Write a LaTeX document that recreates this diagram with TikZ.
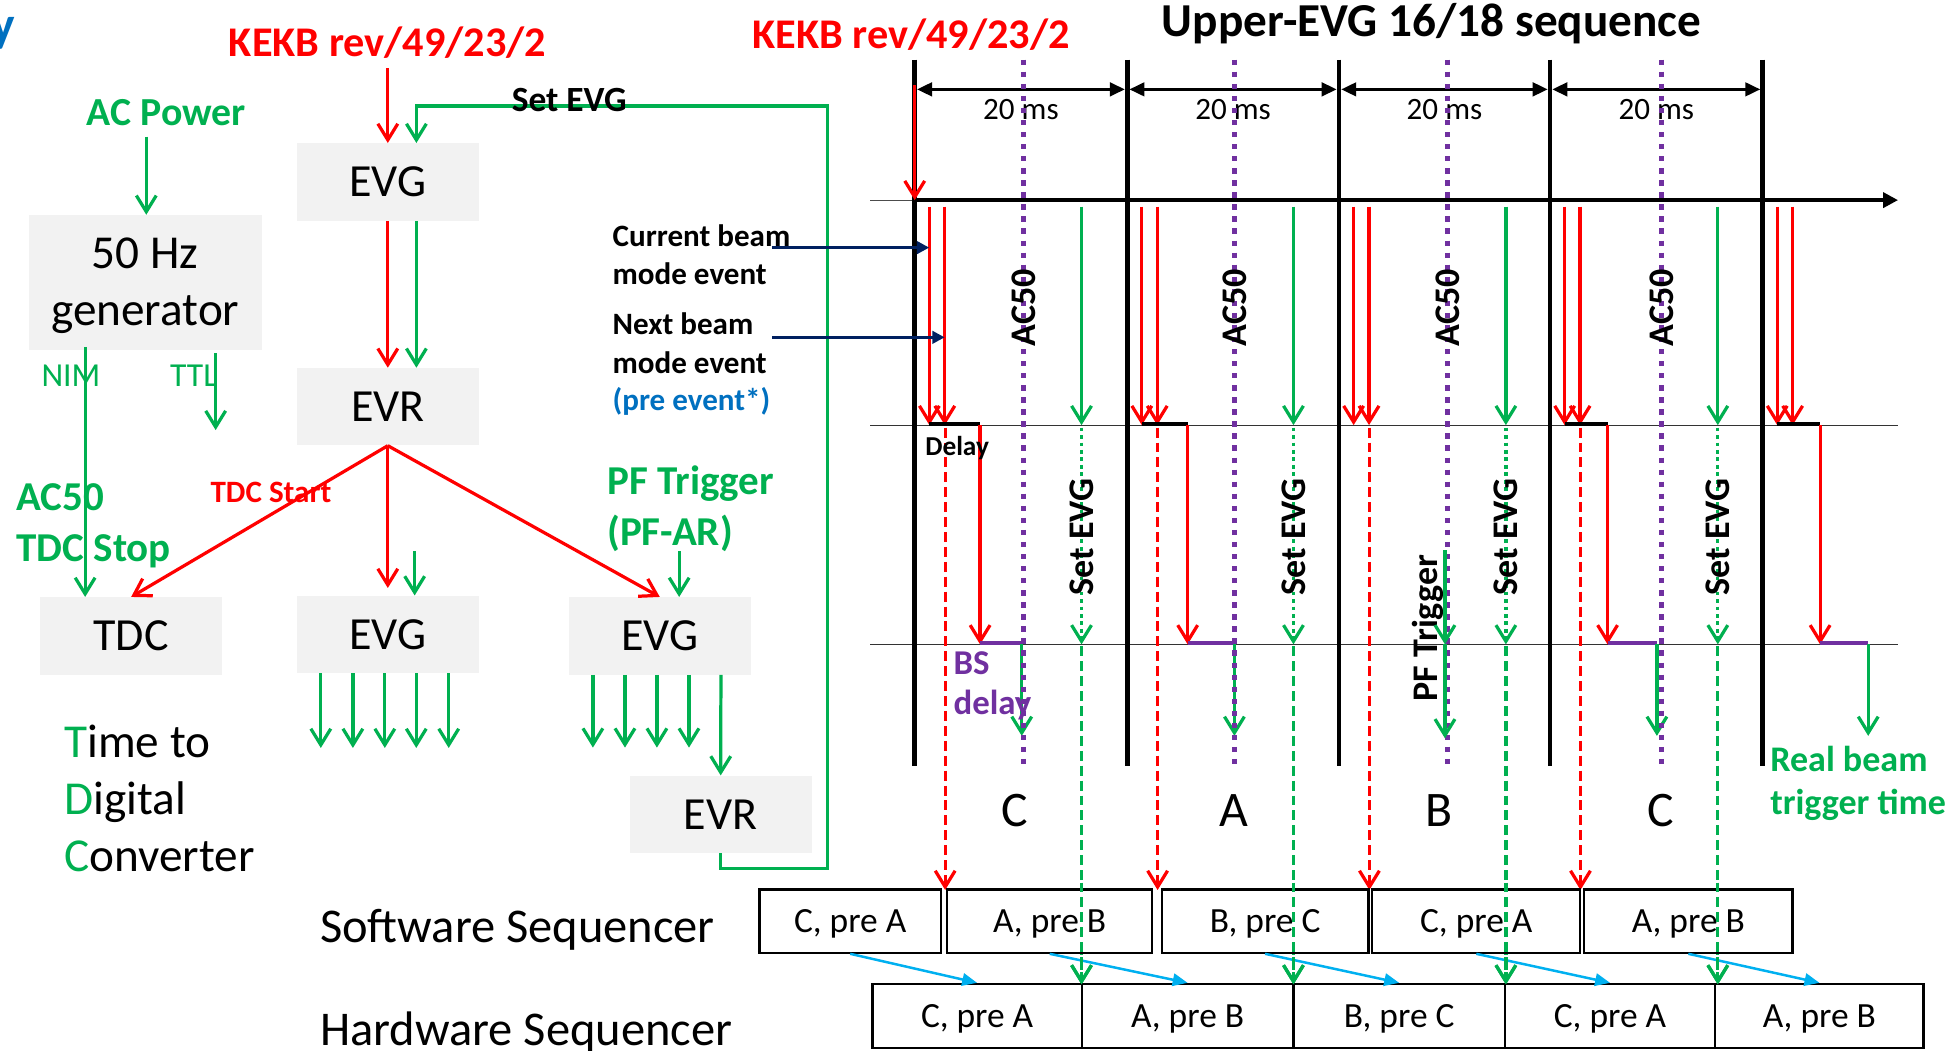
\documentclass[tikz,border=0pt]{standalone}
\usepackage{fontspec}
\setmainfont{Carlito}
\usetikzlibrary{arrows.meta}
\definecolor{kred}{RGB}{255,0,0}
\definecolor{kgreen}{RGB}{0,176,80}
\definecolor{kpurple}{RGB}{112,48,160}
\definecolor{knavy}{RGB}{0,32,96}
\definecolor{klblue}{RGB}{0,176,240}
\definecolor{ktblue}{RGB}{0,112,192}
\definecolor{kgray}{RGB}{242,242,242}
\newcommand\fsz[1]{\fontsize{#1}{#1}\selectfont}
\tikzset{
  gbox/.style={fill=kgray, minimum width=146.5pt, minimum height=62.3pt, inner sep=0pt, font=\fsz{37}},
  sbox/.style={draw=black, line width=1.8pt, fill=white, inner sep=0pt, font=\fsz{28.5}, text height=18.5pt, text depth=0pt},
  vtip/.style={-{Straight Barb[length=13pt,width=16pt]}},
  rarr/.style={draw=kred, line width=2.6pt, vtip},
  garr/.style={draw=kgreen, line width=2.6pt, vtip},
  lbl/.style={anchor=base west, inner sep=0pt},
  cbl/.style={anchor=base, inner sep=0pt},
  vlab/.style={rotate=90, inner sep=0pt, font=\bfseries\fsz{29}},
  purpdot/.style={kpurple, line width=4pt, dash pattern=on 4.3pt off 5.4pt},
}
\begin{document}
\begin{tikzpicture}[x=1pt,y=-1pt]
\useasboundingbox (0,0) rectangle (1568,845);
\fill[white] (0,0) rectangle (1568,845);

% ---------------- left block diagram ----------------
\node[lbl, anchor=base east, font=\bfseries\fsz{40}, text=ktblue] (ycut) at (12,33.5) {y};
\node[cbl, font=\bfseries\fsz{34}, text=kred] (kekb1) at (311.8,45.6) {KEKB rev/49/23/2};
\node[cbl, font=\bfseries\fsz{32}, text=kgreen] (acpow) at (133.9,100.6) {AC Power};
\node[gbox] (evg1) at (312,146.4) {EVG};
\node[gbox] (evr1) at (312,327.2) {EVR};
\node[gbox, minimum width=187.5pt, minimum height=108.6pt] (gen) at (116.9,227.3) {};
\node[cbl, font=\fsz{38}] (gen1) at (116.9,216) {50 Hz};
\node[cbl, font=\fsz{38}] (gen2) at (116.9,261.5) {generator};
\node[gbox] (tdc) at (105.5,511.6) {TDC};
\node[gbox] (evg2) at (312,510.4) {EVG};
\node[gbox] (evg3) at (530.8,511.6) {EVG};
\node[gbox] (evr2) at (579.8,655.2) {EVR};

\coordinate (kin) at (312,55);
\draw[rarr] (kin) -- (evg1.north);
\draw[garr] (evr2.south) -- ++(0,12) -| (665.8,85.3) -| ([xshift=23pt]evg1.north);
\node[cbl, font=\bfseries\fsz{28.5}] (setevg) at (457.9,89.8) {Set EVG};
\draw[rarr] (evg1.south) -- (evr1.north);
\draw[garr] ([xshift=23pt]evg1.south) -- ([xshift=23pt]evr1.north);
\coordinate (acin) at (117.7,110);
\draw[garr] (acin) -- (acin |- gen.north);

\node[cbl, font=\fsz{27}, text=kgreen] (nim) at (57.1,311) {NIM};
\node[cbl, font=\fsz{27}, text=kgreen] (ttl) at (155.9,311) {TTL};
\coordinate (nimtop) at (68.5,279);
\draw[garr] (nimtop) -- (nimtop |- tdc.north);
\coordinate (ttltop) at (173.5,284.3);
\draw[garr] (ttltop) -- (173.5,346);

\draw[rarr] (evr1.south) -- (tdc.north);
\draw[rarr] (evr1.south) -- ([yshift=6pt]evg2.north);
\draw[rarr] (evr1.south) -- (evg3.north);
\node[cbl, font=\bfseries\fsz{25}, text=kred] (tdcstart) at (218,404) {TDC Start};
\node[lbl, font=\bfseries\fsz{33}, text=kgreen] (ac50l) at (13.1,410.6) {AC50};
\node[lbl, font=\bfseries\fsz{33}, text=kgreen] (tdcstop) at (13.1,452) {TDC Stop};
\node[lbl, font=\bfseries\fsz{33}, text=kgreen] (pftrig) at (488.4,397.7) {PF Trigger};
\node[lbl, font=\bfseries\fsz{33}, text=kgreen] (pfar) at (488.4,438.5) {(PF-AR)};
\draw[garr] ([xshift=21.6pt,yshift=35.4pt]evg2.north) -- ([xshift=21.6pt]evg2.north);
\draw[garr] ([xshift=15.6pt,yshift=36.6pt]evg3.north) -- ([xshift=15.6pt]evg3.north);
\foreach \dx in {-53.9,-28.1,-2.4,22.9,49}
  \draw[garr] ([xshift=\dx pt]evg2.south) -- ++(0,60);
\foreach \dx in {-53.8,-28,-2.3,23.5}
  \draw[garr] ([xshift=\dx pt]evg3.south) -- ++(0,58.5);
\draw[garr] ([xshift=49.2pt]evg3.south) -- (evr2.north);

\node[lbl, font=\fsz{38}] (t1) at (51.5,609.4) {\textcolor{kgreen}{T}ime to};
\node[lbl, font=\fsz{38}] (t2) at (51.5,655) {\textcolor{kgreen}{D}igital};
\node[lbl, font=\fsz{38}] (t3) at (51.5,701.5) {\textcolor{kgreen}{C}onverter};
\node[lbl, font=\fsz{39}] (swlab) at (257.3,758) {Software Sequencer};
\node[lbl, font=\fsz{39}] (hwlab) at (257.3,841.5) {Hardware Sequencer};

\node[lbl, font=\bfseries\fsz{25}] (cb1) at (492.7,198.4) {Current beam};
\node[lbl, font=\bfseries\fsz{25}] (cb2) at (492.7,228.5) {mode event};
\node[lbl, font=\bfseries\fsz{25}] (nb1) at (492.7,269.5) {Next beam};
\node[lbl, font=\bfseries\fsz{25}] (nb2) at (492.7,300.5) {mode event};
\node[lbl, font=\bfseries\fsz{25}, text=ktblue] (nb3) at (492.7,330.5) {(pre event*)};

% ---------------- timing diagram ----------------
\node[cbl, font=\bfseries\fsz{34}, text=kred] (kekb2) at (733,39) {KEKB rev/49/23/2};
\node[cbl, font=\bfseries\fsz{38}] (title) at (1151.7,29.5) {Upper-EVG 16/18 sequence};

\draw[line width=0.8pt, black!70] (700,161) -- (736,161);
\draw[line width=1pt, black!80] (700,342.5) -- (1527,342.5);
\draw[line width=1pt, black!80] (700,518.4) -- (1527,518.4);
\foreach \x in {735.9,906.8,1077.2,1247.0,1418.0}
  \draw[line width=3.8pt] (\x,48) -- (\x,616);
\draw[line width=3.2pt, -{Triangle[length=12pt,width=12pt]}] (736,161) -- (1527,161);
\foreach \a/\b in {735.9/906.8,906.8/1077.2,1077.2/1247.0,1247.0/1418.0}{
  \draw[line width=2pt, {Triangle[length=12pt,width=11pt]}-{Triangle[length=12pt,width=11pt]}] (\a+1.9,71.9) -- (\b-1.9,71.9);
  \node[cbl, font=\fsz{25}] at ({(\a+\b)/2},96) {20 ms};
}
\draw[kred, line width=2.6pt, vtip] (735.9,68.4) -- (735.9,161);

% red event pairs
\foreach \x in {735.9,906.8,1077.2,1247.0,1418.0}{
  \draw[rarr] (\x+11.8,166.3) -- (\x+11.8,342);
  \draw[rarr] (\x+24.2,166.3) -- (\x+24.2,342);
}
% set EVG green arrows
\foreach \g in {870.1,1040.6,1211.5,1382.0}{
  \draw[garr] (\g,166.3) -- (\g,342);
  \draw[garr, dash pattern=on 3pt off 3pt] (\g,344) -- (\g,518.4);
  \draw[garr, dash pattern=on 8pt off 4pt] (\g,520) -- (\g,792);
}
% next-beam dashed red
\foreach \x in {735.9,906.8,1077.2,1247.0}
  \draw[rarr, dash pattern=on 8pt off 4pt] (\x+24.5,344) -- (\x+24.5,716);
% delays
\foreach \v/\d/\b in {735.9/788.5/822,906.8/955.5/993.1,1247.0/1293.3/1333,1418.0/1464.3/1503}{
  \draw[line width=3.2pt] (\v+11.8,341) -- (\d,341);
  \draw[rarr] (\d,342) -- (\d,518.4);
  \draw[kpurple, line width=3.4pt] (\d,517.4) -- (\b,517.4);
  \draw[garr] (\b,518.4) -- (\b,592);
}
% purple AC50 lines
\foreach \p in {823.8,993.1,1164.7,1336.8}{
  \draw[purpdot] (\p,48) -- (\p,616);
  \node[vlab] at (\p,247.4) {AC50};
}
\foreach \g in {870.1,1040.6,1211.5,1382.0}
  \node[vlab] at (\g,432) {Set EVG};
% PF trigger
\node[vlab, anchor=base] (pfv) at (1156.3,505.5) {PF Trigger};
\draw[garr] (1162.5,442.5) -- (1162.5,518.4);
\draw[garr] (1162.5,518.4) -- (1162.5,594);

\draw[knavy, line width=2.8pt, -{Triangle[length=10pt,width=10pt]}] (621.3,199.2) -- (747.6,199.2);
\draw[knavy, line width=2.8pt, -{Triangle[length=10pt,width=10pt]}] (621.3,271.4) -- (760,271.4);

\node[lbl, font=\bfseries\fsz{22}] (delay) at (744.2,366.3) {Delay};
\node[lbl, font=\bfseries\fsz{28}, text=kpurple] (bs) at (767,543) {BS};
\node[lbl, font=\bfseries\fsz{28}, text=kpurple] (bsd) at (767,575.2) {delay};
\node[lbl, font=\bfseries\fsz{29}, text=kgreen] (rb1) at (1424,620.5) {Real beam};
\node[lbl, font=\bfseries\fsz{29}, text=kgreen] (rb2) at (1424,655.5) {trigger time};

\node[cbl, font=\fsz{40}] (lc1) at (816.6,665) {C};
\node[cbl, font=\fsz{40}] (la) at (992.9,665) {A};
\node[cbl, font=\fsz{40}] (lb) at (1158,665) {B};
\node[cbl, font=\fsz{40}] (lc2) at (1336,665) {C};

% sequencer boxes
\node[sbox, minimum width=146pt, minimum height=50.9pt] (s1) at (684,741) {C, pre A};
\node[sbox, minimum width=165pt, minimum height=50.9pt] (s2) at (844.5,741) {A, pre B};
\node[sbox, minimum width=166.4pt, minimum height=50.9pt] (s3) at (1017.8,741) {B, pre C};
\node[sbox, minimum width=167.4pt, minimum height=50.9pt] (s4) at (1187.7,741) {C, pre A};
\node[sbox, minimum width=167.4pt, minimum height=50.9pt] (s5) at (1358.3,741) {A, pre B};
\node[sbox, minimum width=168.2pt, minimum height=51.8pt] (h1) at (786.1,817.5) {C, pre A};
\node[sbox, minimum width=170.5pt, minimum height=51.8pt] (h2) at (955.45,817.5) {A, pre B};
\node[sbox, minimum width=169.9pt, minimum height=51.8pt] (h3) at (1125.65,817.5) {B, pre C};
\node[sbox, minimum width=169.4pt, minimum height=51.8pt] (h4) at (1295.3,817.5) {C, pre A};
\node[sbox, minimum width=167.5pt, minimum height=51.8pt] (h5) at (1463.75,817.5) {A, pre B};
\foreach \i in {1,...,5}
  \draw[klblue, line width=2pt, -{Triangle[length=12pt,width=10pt]}] (s\i.south) -- (h\i.north);
% green dashed redrawn over software boxes
\foreach \g in {870.1,1040.6,1211.5,1382.0}
  \draw[garr, dash pattern=on 8pt off 4pt] (\g,710) -- (\g,792);
\end{tikzpicture}
\end{document}
